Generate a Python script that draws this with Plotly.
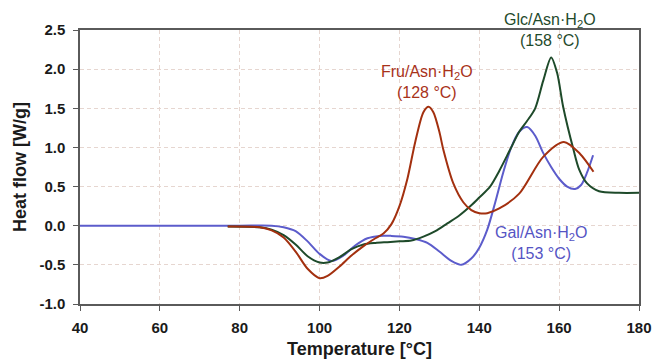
import plotly.graph_objects as go

# ---- data ----
gal_t = [40, 60, 80, 88, 91, 94, 97, 100, 103, 106, 109, 112, 115, 118, 121, 124, 127, 130, 133, 135.5,
         138, 140, 142, 144, 146, 148, 150, 152, 154, 156, 158, 160, 162, 164, 165.5, 167, 168.5]
gal_q = [0, 0, 0, 0, -0.02, -0.07, -0.2, -0.36, -0.45, -0.38, -0.25, -0.16, -0.13, -0.13, -0.14, -0.17,
         -0.22, -0.33, -0.45, -0.50, -0.42, -0.28, -0.05, 0.30, 0.68, 1.0, 1.2, 1.26, 1.15, 0.93, 0.75,
         0.60, 0.50, 0.47, 0.52, 0.68, 0.90]

glc_t = [77, 85, 88, 91, 94, 97, 100, 102, 105, 108, 111, 114, 117, 120, 123, 126, 129, 132, 135, 138,
         140, 142.7, 145, 147.7, 150, 152, 154, 156, 158, 159.5, 161, 163.6, 165, 167, 170, 175, 180]
glc_q = [-0.01, -0.02, -0.05, -0.12, -0.24, -0.39, -0.47, -0.47, -0.40, -0.30, -0.24, -0.22, -0.21,
         -0.20, -0.19, -0.14, -0.07, 0.03, 0.13, 0.26, 0.36, 0.50, 0.70, 0.97, 1.20, 1.34, 1.50, 1.85,
         2.15, 1.95, 1.52, 0.97, 0.72, 0.54, 0.44, 0.42, 0.42]

fru_t = [77, 85, 88, 91, 94, 97, 100, 102, 105, 108, 111, 114, 116, 118, 120, 122, 124, 126, 127.3,
         128.5, 130, 131, 133.5, 136, 138, 140, 142, 145, 150, 156, 161.2, 165.2, 168.6]
fru_q = [-0.01, -0.02, -0.06, -0.15, -0.33, -0.55, -0.67, -0.64, -0.52, -0.38, -0.26, -0.16, -0.10,
         0.02, 0.25, 0.60, 1.08, 1.45, 1.52, 1.45, 1.20, 0.97, 0.54, 0.30, 0.20, 0.16, 0.16, 0.22, 0.41,
         0.88, 1.07, 0.92, 0.69]

x_ticks = [40, 60, 80, 100, 120, 140, 160, 180]
y_ticks = [-1.0, -0.5, 0.0, 0.5, 1.0, 1.5, 2.0, 2.5]

labels = [
    # text, x, y, colour
    ("Fru/Asn·H<sub>2</sub>O<br>(128 °C)", 126.9, 1.83, "#A8321A"),
    ("Glc/Asn·H<sub>2</sub>O<br>(158 °C)", 157.6, 2.50, "#1F4A2C"),
    ("Gal/Asn·H<sub>2</sub>O<br>(153 °C)", 155.4, -0.22, "#5554C4"),
]

RED = "#A3300F"
GREEN = "#1E4A2A"
BLUE = "#5C5CCB"
FONT = "Liberation Sans, Arial, sans-serif"

fig = go.Figure()
fig.add_trace(go.Scatter(x=gal_t, y=gal_q, mode="lines", line=dict(color=BLUE, width=2, shape="spline", smoothing=0.8)))
fig.add_trace(go.Scatter(x=glc_t, y=glc_q, mode="lines", line=dict(color=GREEN, width=2, shape="spline", smoothing=0.8)))
fig.add_trace(go.Scatter(x=fru_t, y=fru_q, mode="lines", line=dict(color=RED, width=2, shape="spline", smoothing=0.8)))

for txt, x, y, col in labels:
    fig.add_annotation(x=x, y=y, text=txt, showarrow=False, xanchor="center", yanchor="middle",
                       font=dict(family=FONT, size=16, color=col), align="center")

GRID = "#E6D6D0"
AX = "#5A5A5A"
fig.update_layout(
    width=653, height=364,
    margin=dict(l=80, r=14, t=30, b=60),
    paper_bgcolor="white", plot_bgcolor="white",
    showlegend=False,
    font=dict(family=FONT, size=15, color="#1A1A1A"),
    xaxis=dict(range=[40, 180], tickvals=x_ticks, ticktext=[f"<b>{v}</b>" for v in x_ticks],
               showgrid=True, gridcolor=GRID, griddash="4px,3px", gridwidth=1,
               showline=True, linecolor=AX, linewidth=1.5, mirror=True,
               ticks="outside", ticklen=5, tickcolor=AX, zeroline=False,
               ticklabelstandoff=4, automargin=False,
               title=dict(text="<b>Temperature [°C]</b>", font=dict(size=18), standoff=8)),
    yaxis=dict(range=[-1.0, 2.5], tickvals=y_ticks, ticktext=[f"<b>{v:.1f}</b>" for v in y_ticks],
               showgrid=True, gridcolor=GRID, griddash="4px,3px", gridwidth=1,
               showline=True, linecolor=AX, linewidth=1.5, mirror=True,
               ticks="outside", ticklen=5, tickcolor=AX, zeroline=False,
               ticklabelstandoff=5, automargin=False,
               title=dict(text="<b>Heat flow [W/g]</b>", font=dict(size=18), standoff=8)),
)

fig.write_html("out.html")
